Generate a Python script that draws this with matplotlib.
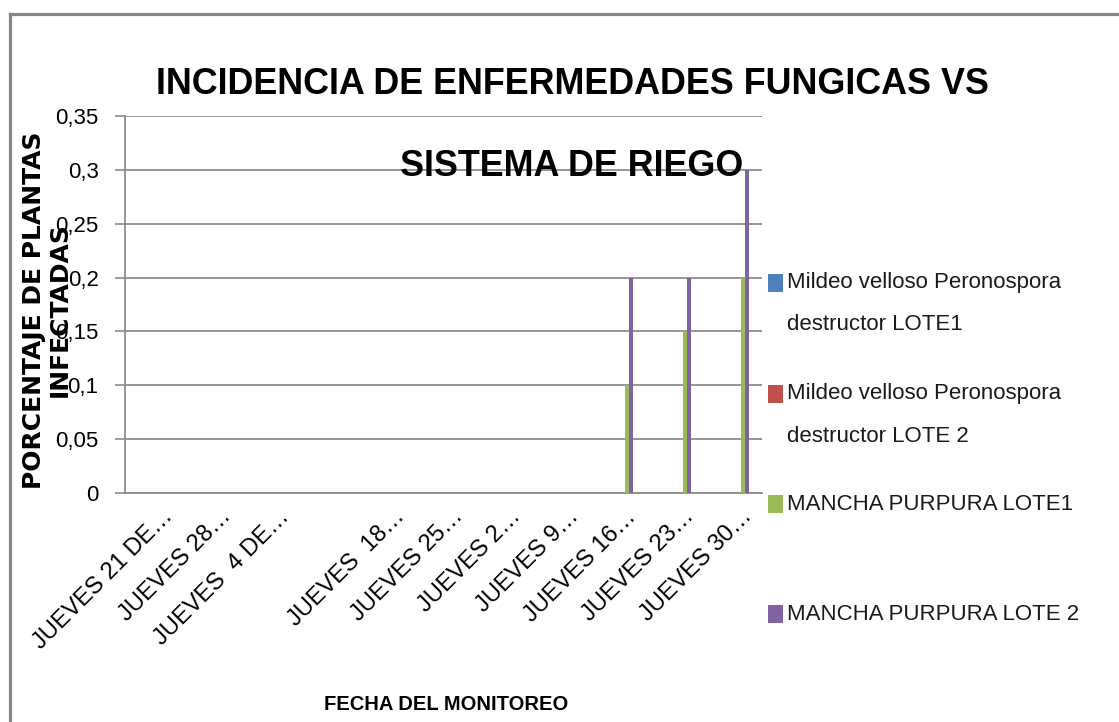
import numpy as np
import matplotlib
matplotlib.use('Agg')
import matplotlib.pyplot as plt
from matplotlib.patches import Rectangle
from matplotlib.lines import Line2D

fechas = ['JUEVES 21 DE…', 'JUEVES 28…', 'JUEVES  4 DE…', '', 'JUEVES  18…',
          'JUEVES 25…', 'JUEVES 2…', 'JUEVES 9…', 'JUEVES 16…', 'JUEVES 23…', 'JUEVES 30…']
mildeo_lote1 = [0, 0, 0, 0, 0, 0, 0, 0, 0, 0, 0]
mildeo_lote2 = [0, 0, 0, 0, 0, 0, 0, 0, 0, 0, 0]
mancha_lote1 = [0, 0, 0, 0, 0, 0, 0, 0, 0.1, 0.15, 0.2]
mancha_lote2 = [0, 0, 0, 0, 0, 0, 0, 0, 0.2, 0.2, 0.3]
series_names = ['Mildeo velloso Peronospora\ndestructor LOTE1',
                'Mildeo velloso Peronospora\ndestructor LOTE 2',
                'MANCHA PURPURA LOTE1',
                'MANCHA PURPURA LOTE 2']
colors = ['#4F81BD', '#C0504D', '#9BBB59', '#8064A2']
yticks = [0, 0.05, 0.1, 0.15, 0.2, 0.25, 0.3, 0.35]

font = 'Liberation Sans'
W, H = 1119, 722
fig = plt.figure(figsize=(W / 100, H / 100), dpi=100)
fig.patch.set_facecolor('white')

# outer chart border (only top and left are visible)
fig.add_artist(Line2D([10 / W, 10 / W], [0, 1 - 14 / H], transform=fig.transFigure,
                      color='#868686', lw=2.3))
fig.add_artist(Line2D([10 / W, 1], [1 - 14 / H, 1 - 14 / H], transform=fig.transFigure,
                      color='#868686', lw=2.3))

ax = fig.add_axes([125 / W, 1 - 493 / H, (762 - 125) / W, (493 - 116) / H])

x = np.arange(len(fechas))
w = 0.07
all_series = [mildeo_lote1, mildeo_lote2, mancha_lote1, mancha_lote2]
for i, (vals, c) in enumerate(zip(all_series, colors)):
    ax.bar(x + (i - 1.5) * w, vals, width=w, color=c, linewidth=0, zorder=3)

ax.set_xlim(-0.64, len(fechas) - 0.64)
ax.set_ylim(0, 0.35)
ax.set_yticks(yticks)
ax.set_yticklabels([('%g' % v).replace('.', ',') for v in yticks],
                   fontfamily=font, fontsize=16)
ax.set_xticks(x)
ax.set_xticklabels(fechas, rotation=45, ha='right', rotation_mode='anchor',
                   fontfamily=font, fontsize=17)
ax.tick_params(axis='x', length=0, pad=9)
ax.tick_params(axis='y', length=7, color='#8c8c8c', width=1.2, pad=12)
ax.grid(axis='y', color='#8c8c8c', lw=1.3, zorder=0)
for s in ['top', 'right']:
    ax.spines[s].set_visible(False)
for s in ['left', 'bottom']:
    ax.spines[s].set_color('#8c8c8c')
    ax.spines[s].set_linewidth(1.3)

# title
fig.text(572 / W, 1 - 84 / H, 'INCIDENCIA DE ENFERMEDADES FUNGICAS VS',
         ha='center', va='center', fontfamily=font, fontweight='bold', fontsize=25.8)
fig.text(572 / W, 1 - 167 / H, 'SISTEMA DE RIEGO',
         ha='center', va='center', fontfamily=font, fontweight='bold', fontsize=25.8)

# axis titles
fig.text(47 / W, 1 - 310 / H, 'PORCENTAJE DE PLANTAS\nINFECTADAS', rotation=90,
         ha='center', va='center', multialignment='center', fontfamily='DejaVu Sans',
         fontweight='bold', fontsize=18, linespacing=1.1)
fig.text(446 / W, 1 - 705 / H, 'FECHA DEL MONITOREO', ha='center', va='center',
         fontfamily=font, fontweight='bold', fontsize=14.5)

# legend drawn by hand to keep Excel-like spacing
entry_y = [283, 394, 504, 614]
for name, c, yy in zip(series_names, colors, entry_y):
    fig.add_artist(Rectangle((768 / W, 1 - (yy + 9) / H), 15 / W, 18 / H,
                             transform=fig.transFigure, facecolor=c, edgecolor='none'))
    for k, line in enumerate(name.split('\n')):
        fig.text(787 / W, 1 - (yy + 42 * k) / H, line, ha='left', va='center',
                 fontfamily=font, fontsize=16, color='#1a1a1a')

fig.savefig('out.png', dpi=100)
